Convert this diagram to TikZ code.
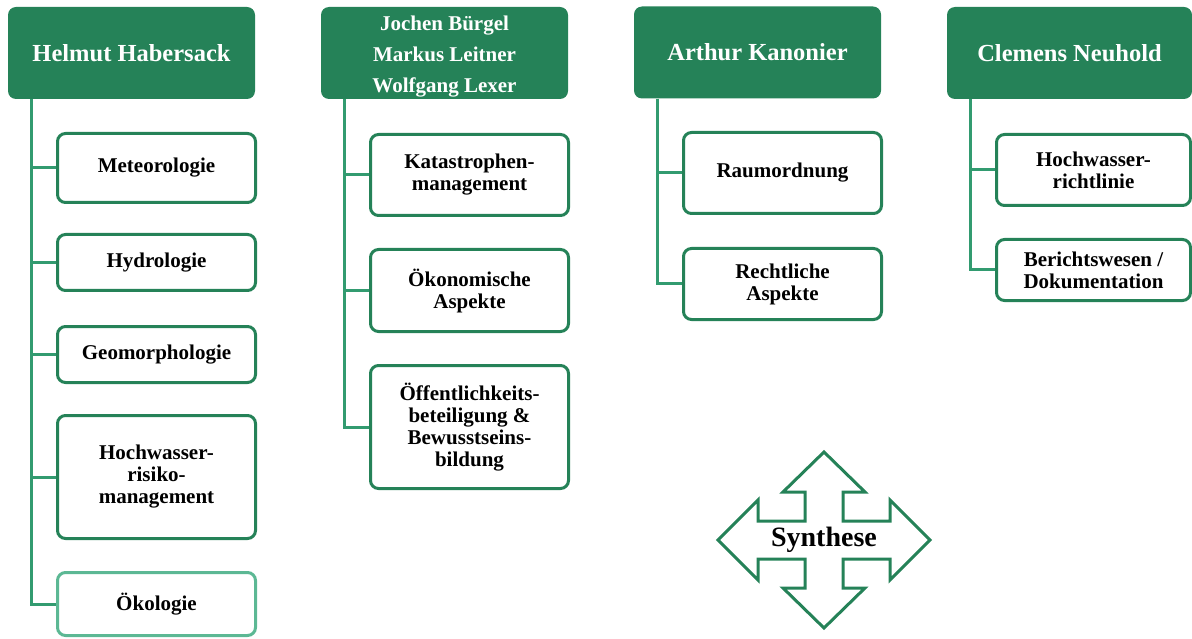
\documentclass[tikz,border=0pt]{standalone}
\usepackage{fontspec}
\setmainfont{Liberation Serif}
\usepackage{tikz}
\usetikzlibrary{positioning}
\definecolor{hdgreen}{RGB}{37,130,88}
\definecolor{linegreen}{RGB}{50,155,112}
\definecolor{palegreen}{RGB}{92,184,148}

\begin{document}
\begin{tikzpicture}[x=1pt, y=-1pt,
    head/.style={fill=hdgreen, rounded corners=8pt, minimum width=247pt, minimum height=92pt, inner sep=0pt, align=center, text=white, font=\bfseries\fontsize{24.5}{31}\selectfont},
    topic/.style={draw=hdgreen, line width=3pt, fill=white, rounded corners=8pt, minimum width=198pt, inner sep=0pt, align=center, font=\bfseries\fontsize{21}{22}\selectfont},
    branch/.style={draw=linegreen, line width=3pt},
    arrowline/.style={draw=hdgreen, line width=3pt, line join=miter, fill=white}]
    \useasboundingbox (0,0) rectangle (1192,639);

    % headers
    \node[head] (hab) at (131.5,53) {Helmut Habersack};
    \node[head, font=\bfseries\fontsize{21}{31}\selectfont] (bue) at (444.5,53) {\rule{0pt}{22pt}Jochen Bürgel\\Markus Leitner\\Wolfgang Lexer};
    \node[head] (kan) at (757.5,52.5) {Arthur Kanonier};
    \node[head, minimum width=245pt] (neu) at (1069.5,53) {Clemens Neuhold};

    % topics Habersack
    \node[topic, minimum height=69pt] (met) at (156.5,168) {Meteorologie};
    \node[topic, minimum height=56pt] (hyd) at (156.5,262.5) {Hydrologie};
    \node[topic, minimum height=56pt] (geo) at (156.5,354.5) {Geomorphologie};
    \node[topic, minimum height=123pt] (hrm) at (156.5,477) {Hochwasser-\\risiko-\\management};
    \node[topic, draw=palegreen, minimum height=63pt] (oeko) at (156.5,604) {Ökologie};

    % topics Buergel / Leitner / Lexer
    \node[topic, minimum height=81pt] (kat) at (469.5,175) {Katastrophen-\\management};
    \node[topic, minimum height=82pt] (oek) at (469.5,290.5) {Ökonomische\\Aspekte};
    \node[topic, minimum height=123pt] (oef) at (469.5,427) {Öffentlichkeits-\\beteiligung \&\\Bewusstseins-\\bildung};

    % topics Kanonier
    \node[topic, minimum height=81pt] (raum) at (782.5,173) {Raumordnung};
    \node[topic, minimum height=71pt] (recht) at (782.5,284) {Rechtliche\\Aspekte};

    % topics Neuhold
    \node[topic, minimum width=194pt, minimum height=71pt] (hwr) at (1093.5,170) {Hochwasser-\\richtlinie};
    \node[topic, minimum width=194pt, minimum height=61pt] (ber) at (1093.5,270) {Berichtswesen /\\Dokumentation};

    % connectors
    \foreach \t in {met,hyd,geo,hrm,oeko}
        \draw[branch] ([xshift=24pt]hab.south west) |- (\t.west);
    \foreach \t in {kat,oek,oef}
        \draw[branch] ([xshift=24pt]bue.south west) |- (\t.west);
    \foreach \t in {raum,recht}
        \draw[branch] ([xshift=24pt]kan.south west) |- (\t.west);
    \foreach \t in {hwr,ber}
        \draw[branch] ([xshift=24pt]neu.south west) |- (\t.west);

    % synthesis cross arrow
    \coordinate (sync) at (824,540);
    \draw[arrowline] ([yshift=88pt]sync) -- ++(41,40) -- ++(-22,0) -- ++(0,29) -- ++(47,0) -- ++(0,-21)
        -- ++(40,40) -- ++(-40,40) -- ++(0,-21) -- ++(-47,0) -- ++(0,29) -- ++(22,0)
        -- ++(-41,40) -- ++(-41,-40) -- ++(22,0) -- ++(0,-29) -- ++(-47,0) -- ++(0,21)
        -- ++(-40,-40) -- ++(40,-40) -- ++(0,21) -- ++(47,0) -- ++(0,-29) -- ++(-22,0) -- cycle;
    \node[font=\bfseries\fontsize{28}{30}\selectfont] (syn) at (sync) {Synthese};
\end{tikzpicture}
\end{document}
